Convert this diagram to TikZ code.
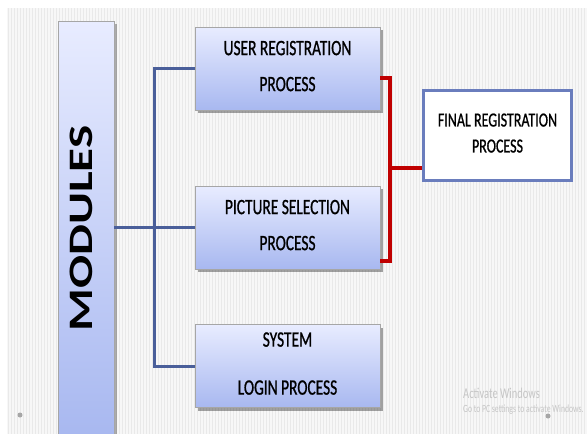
\documentclass[tikz,border=0pt]{standalone}
\usepackage{fontspec}
\setmainfont{Carlito}
\newfontfamily\cond[FakeStretch=0.7,FakeBold=0.8]{Carlito}
\newfontfamily\condlight[FakeStretch=0.7]{Carlito}
\usetikzlibrary{shadows}
\definecolor{boxtop}{HTML}{E8ECFF}
\definecolor{boxbot}{HTML}{A8B8F0}
\definecolor{busblue}{HTML}{4A5F9A}
\definecolor{busred}{HTML}{C00000}
\definecolor{finborder}{HTML}{6A7DBD}
\definecolor{stripe}{HTML}{E9E9E9}
\definecolor{bggray}{HTML}{F7F7F7}
\newcommand{\lowpad}{\rule[-5pt]{0pt}{0pt}}
\tikzset{
  procbox/.style={draw=gray!70, line width=0.8pt, top color=boxtop, bottom color=boxbot,
    minimum width=185pt, minimum height=83pt, inner sep=0pt, align=center,
    drop shadow={shadow xshift=2.5pt, shadow yshift=-3pt, fill=black, opacity=0.35},
    font=\cond\fontsize{22}{36}\selectfont},
  finbox/.style={draw=finborder, line width=3pt, fill=white, minimum width=148pt,
    minimum height=90pt, inner sep=0pt, align=center, font=\cond\fontsize{20}{26}\selectfont},
  modbox/.style={draw=gray!70, line width=0.8pt, top color=boxtop, bottom color=boxbot,
    minimum width=56pt, minimum height=415pt, inner sep=0pt,
    drop shadow={shadow xshift=2.5pt, shadow yshift=-3pt, fill=black, opacity=0.3}},
  blueline/.style={draw=busblue, line width=3pt},
  redline/.style={draw=busred, line width=3.2pt},
  wintext/.style={text=gray!45, anchor=west, inner sep=0pt},
  dotmark/.style={fill=gray!70, draw=none, circle, minimum size=5pt, inner sep=0pt}
}
\begin{document}
\begin{tikzpicture}[x=1pt,y=-1pt]
\useasboundingbox (0,0) rectangle (587,434);
\fill[white] (0,0) rectangle (587,434);
\fill[bggray] (7,8) rectangle (587,434);
\foreach \i in {0,...,192} {
  \draw[stripe, line width=1pt] ({8+3*\i},8) -- ({8+3*\i},434);
}
% modules column
\node[modbox] (mod) at (86,228.5) {\hspace*{-10pt}\rotatebox{90}{\scalebox{1}[0.7]{\fontsize{49}{50}\selectfont\bfseries MODULES}}};
% process boxes
\node[procbox] (user) at (287.5,68.5) {USER REGISTRATION\\PROCESS\lowpad};
\node[procbox] (pic) at (287.5,227.5) {PICTURE SELECTION\\PROCESS\lowpad};
\node[procbox, font=\cond\fontsize{22}{48}\selectfont] (sys) at (287.5,366) {SYSTEM\\LOGIN PROCESS\lowpad};
\node[finbox] (fin) at (497.5,135.5) {FINAL REGISTRATION\\PROCESS\lowpad};
% blue bus
\draw[blueline] (user.west) -- ++(-40,0) |- (sys.west);
\draw[blueline] (mod.east |- pic.west) -- (pic.west);
% red bus
\coordinate (ra) at (390,78);
\coordinate (rb) at (390,261);
\coordinate (rc) at (390,168);
\draw[redline] (user.east |- ra) -- (ra) -- (rb) -- (pic.east |- rb);
\draw[redline] (rc) -- (fin.west |- rc);
% watermark
\node[wintext, font=\condlight\fontsize{15}{16}\selectfont] (act) at (463,393) {Activate Windows};
\node[wintext, font=\condlight\fontsize{11}{12}\selectfont] (go) at (463,410) {Go to PC settings to activate Windows.};
\node[dotmark] (d1) at (20,415) {};
\node[dotmark] (d2) at (548,416) {};
\end{tikzpicture}
\end{document}
